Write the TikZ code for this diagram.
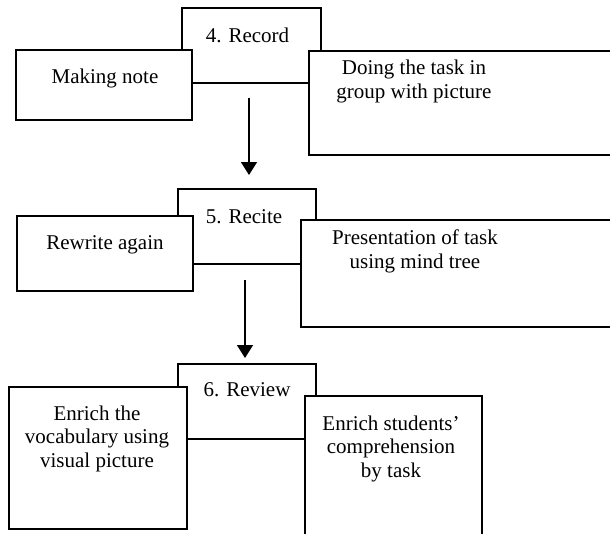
\documentclass[tikz,border=0pt]{standalone}
\usepackage{fontspec}
\setmainfont{Liberation Serif}
\usepackage{tikz}
\usetikzlibrary{arrows.meta}

\tikzset{
  box/.style={draw, fill=white, line width=1.6pt, inner sep=0pt, outer sep=0pt},
  txt/.style={inner sep=0pt, align=center, anchor=base, font=\fontsize{21}{23.5}\selectfont},
  arr/.style={line width=1.6pt, -{Triangle[width=16pt,length=13pt]}}
}

\begin{document}
\begin{tikzpicture}[x=1pt, y=1pt]
				\useasboundingbox (0,0) rectangle (610,-533);
				\clip (0,0) rectangle (610,-533);
				% 4. Record
				\node[box, minimum width=139pt, minimum height=75pt] (record) at (251.5,-45.5) {};
				\node[box, minimum width=176pt, minimum height=70pt] (note) at (104,-85) {};
				\node[box, minimum width=316pt, minimum height=104pt] (task) at (467,-103) {};
				\node[txt] (recordtxt) at (247.5,-42) {4. Record};
				\node[txt] (notetxt) at (105,-83) {Making note};
				\node[txt] (tasktxt) at (414,-98) {Doing the task in\\group with picture};
				
				% 5. Recite
				\node[box, minimum width=138pt, minimum height=75pt] (recite) at (247,-226.5) {};
				\node[box, minimum width=176pt, minimum height=75pt] (rewrite) at (105,-253.5) {};
				\node[box, minimum width=324pt, minimum height=107pt] (present) at (463,-273.5) {};
				\node[txt] (recitetxt) at (244,-223) {5. Recite};
				\node[txt] (rewritetxt) at (105,-249) {Rewrite again};
				\node[txt] (presenttxt) at (415,-268) {Presentation of task\\using mind tree};
				
				% 6. Review
				\node[box, minimum width=138pt, minimum height=75pt] (review) at (247,-401.5) {};
				\node[box, minimum width=178pt, minimum height=142pt] (vocab) at (98,-458) {};
				\node[box, minimum width=177pt, minimum height=149pt] (compre) at (393.5,-470.5) {};
				\node[txt] (reviewtxt) at (247,-396) {6. Review};
				\node[txt] (vocabtxt) at (97,-467) {Enrich the\\vocabulary using\\visual picture};
				\node[txt] (compretxt) at (391,-477) {Enrich students'\\comprehension\\by task};
				
				\draw[arr, shorten <=15pt, shorten >=14pt] ([xshift=-2.5pt]record.south) -- ([xshift=2pt]recite.north);
				\draw[arr, shorten <=16pt, shorten >=6pt] ([xshift=-2pt]recite.south) -- ([xshift=-2pt]review.north);
			\end{tikzpicture}
\end{document}
